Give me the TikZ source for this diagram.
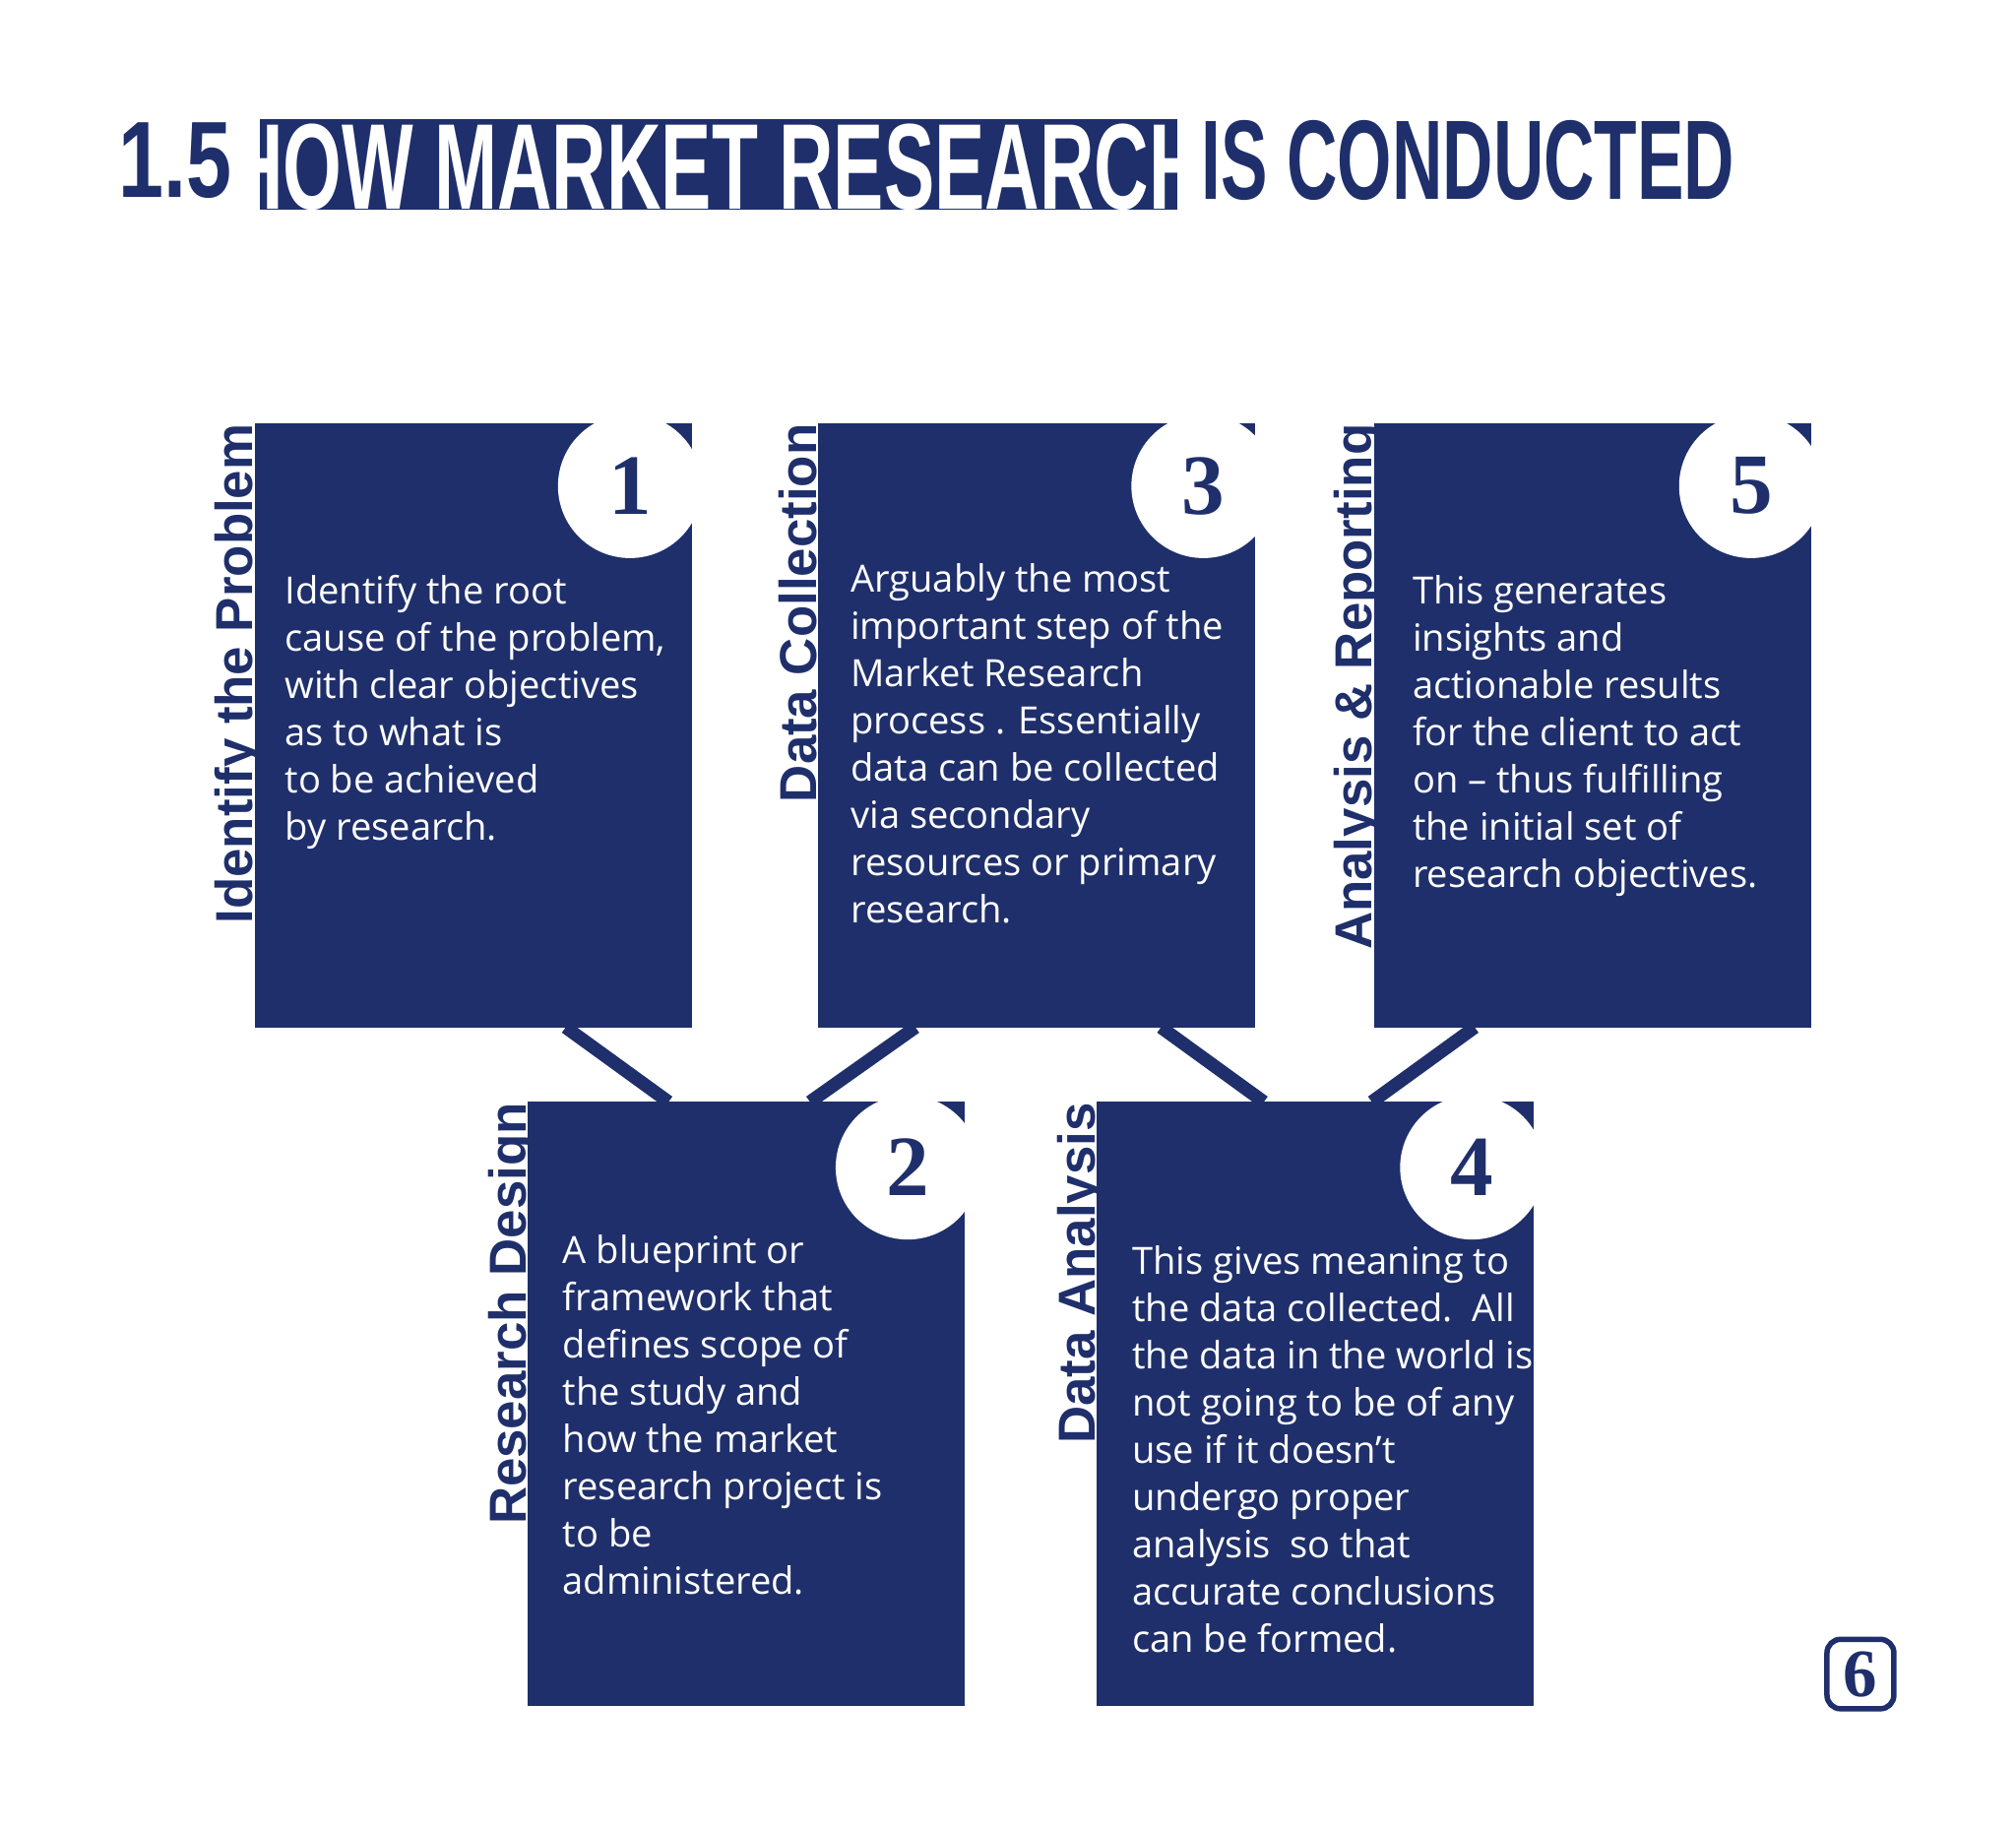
\documentclass[tikz,border=0pt]{standalone}
\usepackage{fontspec}
\setmainfont{Open Sans}
\newfontfamily\lblfont{Liberation Sans}
\newfontfamily\numfont{Liberation Serif}
\definecolor{navy}{HTML}{1F2F6B}
\begin{document}
\begin{tikzpicture}[x=0.01cm,y=-0.01cm,
  boxfill/.style={fill=navy},
  notch/.style={fill=white,circle,minimum size=1.12cm,inner sep=0pt,font=\numfont\bfseries\fontsize{19}{19}\selectfont,text=navy},
  body/.style={anchor=north west,align=left,text=white,inner sep=0pt,font=\fontsize{8.3}{10.45}\selectfont},
  vlab/.style={rotate=90,anchor=north east,inner sep=0pt,text=navy,font=\lblfont\bfseries\fontsize{11.5}{12}\selectfont},
  link/.style={draw=navy,line width=2.9pt}]
\useasboundingbox (0,0) rectangle (1568,1423);
% title
\node[anchor=west,text=navy,font=\lblfont\bfseries\fontsize{24}{24}\selectfont,xscale=0.75,inner sep=0pt] (num) at (92,125) {1.5};
\fill[navy] (202,93) rectangle (916,163);
\node[text=white,font=\lblfont\bfseries\fontsize{27}{27}\selectfont,xscale=0.62,inner sep=0pt] (t1) at (557,130) {HOW MARKET RESEARCH};
\node[text=navy,font=\lblfont\bfseries\fontsize{25}{25}\selectfont,xscale=0.62,anchor=west,inner sep=0pt] (t2) at (934,125) {IS CONDUCTED};
% links
\coordinate (a1) at (440,799); \coordinate (b1) at (520,857);
\coordinate (a2) at (712,799); \coordinate (b2) at (630,857);
\coordinate (a3) at (903,799); \coordinate (b3) at (983,857);
\coordinate (a4) at (1147,799); \coordinate (b4) at (1067,857);
\draw[link] (a1)--(b1); \draw[link] (a2)--(b2); \draw[link] (a3)--(b3); \draw[link] (a4)--(b4);
% boxes
\fill[boxfill] (198,329) rectangle (538,799);
\fill[boxfill] (636,329) rectangle (976,799);
\fill[boxfill] (1069,329) rectangle (1409,799);
\fill[boxfill] (410,857) rectangle (750,1327);
\fill[boxfill] (853,857) rectangle (1193,1327);
\node[notch] (n1) at (490,378) {1};
\node[notch] (n3) at (936,378) {3};
\node[notch] (n5) at (1362,378) {5};
\node[notch] (n2) at (706,908) {2};
\node[notch] (n4) at (1145,908) {4};
% labels
\node[vlab] (l1) at (166,329) {Identify the Problem};
\node[vlab] (l3) at (605,329) {Data Collection};
\node[vlab] (l5) at (1037,329) {Analysis \& Reporting};
\node[vlab] (l2) at (379,857) {Research Design};
\node[vlab] (l4) at (822,857) {Data Analysis};
% body
\node[body] (x1) at (221,447) {Identify the root\\cause of the problem,\\with clear objectives\\as to what is\\to be achieved\\by research.};
\node[body] (x3) at (661,438) {Arguably the most\\important step of the\\Market Research\\process . Essentially\\data can be collected\\via secondary\\resources or primary\\research.};
\node[body] (x5) at (1098,447) {This generates\\insights and\\actionable results\\for the client to act\\on -- thus fulfilling\\the initial set of\\research objectives.};
\node[body] (x2) at (437,960) {A blueprint or\\framework that\\defines scope of\\the study and\\how the market\\research project is\\to be\\administered.};
\node[body] (x4) at (880,968) {This gives meaning to\\the data collected.\ \ All\\the data in the world is\\not going to be of any\\use if it doesn't\\undergo proper\\analysis\ \ so that\\accurate conclusions\\can be formed.};
% page number
\node[draw=navy,line width=1.2pt,rounded corners=3pt,minimum width=0.52cm,minimum height=0.54cm,inner sep=0pt,text=navy,font=\numfont\bfseries\fontsize{15}{15}\selectfont] (pg) at (1447,1302) {6};
\end{tikzpicture}
\end{document}
